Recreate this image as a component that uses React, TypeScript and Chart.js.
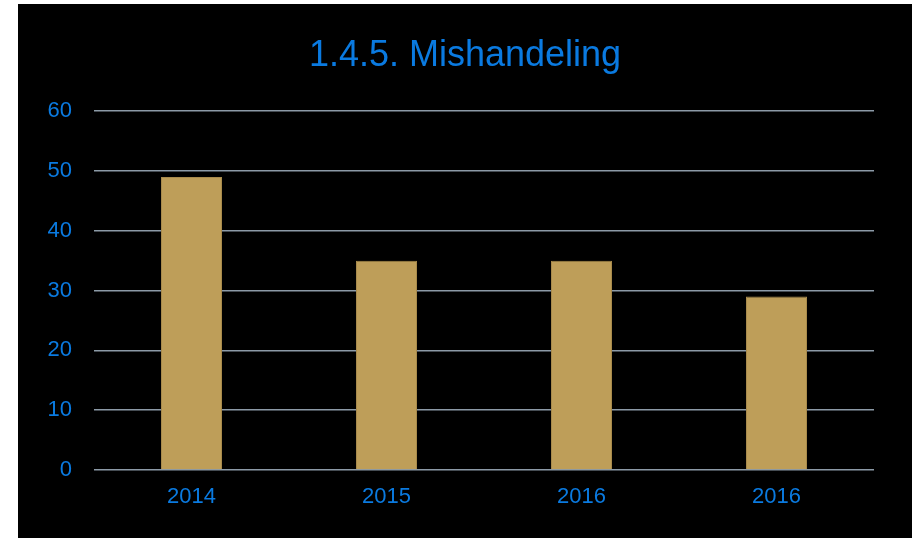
import React, { useEffect, useRef } from "react";
import { Chart, registerables } from "chart.js";

Chart.register(...registerables);

const categories = ["2014", "2015", "2016", "2016"];
const values = [49, 35, 35, 29];
const yMin = 0;
const yMax = 60;
const yStep = 10;
const titleText = "1.4.5. Mishandeling";

const BLUE = "#0a7ae0";
const BAR = "#be9e59";
const GRID = "#8c9aa7";
const FONT = "'Liberation Sans', Arial, sans-serif";

export default function App() {
  const ref = useRef<HTMLCanvasElement | null>(null);

  useEffect(() => {
    if (!ref.current) return;
    const chart = new Chart(ref.current, {
      type: "bar",
      data: {
        labels: categories,
        datasets: [
          {
            data: values,
            backgroundColor: BAR,
            borderColor: "#a88a4c",
            borderWidth: 1,
            barPercentage: 0.313,
            categoryPercentage: 1,
          },
        ],
      },
      options: {
        animation: false,
        responsive: false,
        maintainAspectRatio: false,
        layout: { padding: 0 },
        plugins: {
          legend: { display: false },
          tooltip: { enabled: false },
          title: {
            display: true,
            text: titleText,
            color: BLUE,
            font: { family: FONT, size: 36, weight: "normal" },
            padding: { top: 30, bottom: 34 },
          },
        },
        scales: {
          x: {
            grid: { display: false, drawTicks: false },
            border: { display: false },
            ticks: {
              color: BLUE,
              font: { family: FONT, size: 22 },
              padding: 14,
              maxRotation: 0,
            },
            afterFit: (s: any) => {
              s.height = 68;
            },
          },
          y: {
            min: yMin,
            max: yMax,
            grid: { color: GRID, lineWidth: 1.5, drawTicks: false },
            border: { display: false },
            ticks: {
              stepSize: yStep,
              color: BLUE,
              font: { family: FONT, size: 22 },
              padding: 22,
            },
            afterFit: (s: any) => {
              s.width = 76;
            },
          },
          yRight: {
            position: "right",
            min: yMin,
            max: yMax,
            grid: { display: false, drawTicks: false },
            border: { display: false },
            ticks: { display: false },
            afterFit: (s: any) => {
              s.width = 38;
            },
          },
        },
      },
    });
    return () => chart.destroy();
  }, []);

  return (
    <div
      style={{
        position: "fixed",
        left: 0,
        top: 0,
        width: 912,
        height: 538,
        background: "#ffffff",
      }}
    >
      <div
        style={{
          position: "absolute",
          left: 18,
          top: 4,
          width: 894,
          height: 534,
          background: "#000000",
        }}
      >
        <canvas ref={ref} width={894} height={534} style={{ display: "block" }} />
      </div>
    </div>
  );
}
